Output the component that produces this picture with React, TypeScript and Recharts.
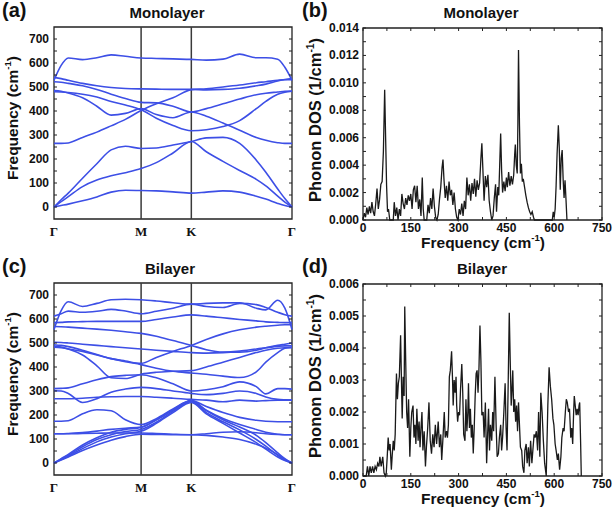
import { LineChart, Line, XAxis, YAxis, ReferenceLine, ReferenceArea } from 'recharts'

// ==================== Style ====================

const SANS = '"Liberation Sans", Arial, Helvetica, sans-serif'
const SERIF = '"Liberation Serif", "Times New Roman", serif'
const BAND_BLUE = '#3d4fe6'
const INK = '#222'

const W_LEFT = 306
const W_RIGHT = 307
const H = 256
// axis width/height take the left/bottom space, so margins there are 0
const BAND_MARGIN = { top: 27, right: 14, bottom: 0, left: 0 }
const BAND_Y_W = 54
const BAND_X_H = 37
const DOS_MARGIN = { top: 28, right: 11, bottom: 0, left: 0 }
const DOS_Y_W = 57
const DOS_X_H = 36

// ==================== Data ====================

// positions along the Γ–M–K–Γ path, in % of path length
const K_PATH = [0, 3, 6, 12, 18, 24, 30, 36.6, 43, 50, 57.7, 64, 71, 78, 85, 89, 94, 97, 100]
const SYM_POINTS = [0, 36.6, 57.7, 100]
const SYM_LABELS = ['Γ', 'M', 'K', 'Γ']

// monolayer branches, cm-1 at each K_PATH point
const MONO_BANDS: number[][] = [
  [528, 590, 621, 614, 622, 634, 628, 621, 619, 617, 615, 612, 616, 637, 622, 622, 616, 582, 528],
  [540, 535, 528, 515, 505, 498, 494, 492, 491, 490, 490, 488, 490, 495, 505, 512, 525, 531, 535],
  [522, 520, 515, 505, 490, 470, 452, 436, 434, 420, 396, 410, 430, 450, 468, 474, 479, 482, 483],
  [485, 482, 475, 455, 420, 383, 390, 410, 385, 372, 396, 378, 350, 320, 290, 278, 268, 265, 265],
  [480, 479, 477, 470, 458, 440, 425, 405, 370, 340, 318, 322, 335, 360, 410, 440, 470, 478, 482],
  [265, 265, 267, 290, 312, 338, 365, 402, 430, 455, 489, 493, 500, 508, 518, 522, 528, 530, 530],
  [0, 30, 58, 120, 180, 238, 253, 244, 246, 258, 273, 288, 290, 265, 195, 145, 75, 35, 0],
  [0, 22, 43, 85, 112, 130, 143, 160, 185, 225, 273, 230, 190, 152, 115, 88, 45, 20, 0],
  [0, 6, 12, 26, 42, 62, 70, 69, 67, 63, 58, 62, 67, 62, 45, 33, 15, 6, 0],
]

// bilayer branches, cm-1 at each K_PATH point
const BI_BANDS: number[][] = [
  [556, 635, 672, 652, 665, 680, 682, 680, 675, 668, 662, 665, 667, 668, 645, 638, 678, 645, 556],
  [612, 622, 633, 628, 632, 640, 633, 622, 632, 645, 662, 652, 648, 665, 660, 648, 628, 618, 612],
  [585, 586, 588, 589, 590, 590, 590, 590, 598, 608, 617, 612, 605, 598, 592, 588, 586, 585, 585],
  [569, 568, 566, 562, 558, 553, 547, 540, 528, 510, 490, 472, 462, 462, 470, 480, 490, 495, 500],
  [503, 502, 500, 495, 490, 485, 480, 475, 470, 465, 460, 458, 460, 466, 475, 480, 486, 488, 488],
  [493, 490, 485, 470, 452, 435, 425, 415, 440, 465, 490, 515, 538, 555, 566, 570, 574, 576, 576],
  [486, 483, 475, 450, 405, 355, 352, 370, 378, 382, 385, 400, 420, 440, 460, 470, 478, 480, 480],
  [482, 480, 475, 465, 450, 435, 422, 410, 395, 382, 375, 370, 362, 356, 380, 420, 460, 478, 482],
  [310, 311, 313, 330, 347, 360, 365, 368, 355, 330, 300, 305, 318, 338, 318, 288, 310, 310, 308],
  [301, 300, 290, 252, 268, 295, 308, 315, 310, 300, 290, 285, 290, 300, 290, 275, 265, 263, 262],
  [268, 268, 268, 270, 274, 276, 277, 277, 274, 270, 265, 262, 255, 262, 258, 260, 262, 262, 262],
  [174, 174, 176, 205, 222, 218, 180, 160, 185, 225, 260, 235, 210, 190, 178, 174, 172, 172, 172],
  [122, 122, 123, 127, 133, 140, 145, 150, 180, 220, 258, 220, 185, 160, 140, 128, 120, 118, 118],
  [122, 122, 122, 123, 124, 125, 125, 125, 123, 120, 118, 122, 128, 130, 126, 122, 119, 118, 118],
  [0, 12, 25, 52, 75, 95, 110, 120, 119, 118, 118, 115, 108, 98, 78, 62, 35, 15, 0],
  [0, 14, 28, 60, 88, 108, 122, 132, 165, 210, 252, 205, 165, 125, 85, 58, 25, 10, 0],
  [0, 16, 32, 68, 98, 118, 131, 140, 170, 215, 255, 210, 172, 138, 98, 70, 32, 12, 0],
  [0, 18, 36, 75, 105, 128, 140, 148, 180, 222, 260, 218, 180, 150, 115, 85, 42, 18, 0],
]

// phonon DOS, [frequency cm-1, DOS 1/cm-1]
const DOS_MONO: [number, number][] = [
  [0, 0], [4, 0.0005], [8, 0.0002], [12, 0.0009], [16, 0.0004], [20, 0.001], [24, 0.0005], [28, 0.0013],
  [32, 0.0006], [36, 0.0003], [40, 0.0012], [44, 0.0023], [48, 0.0008], [52, 0.0015], [56, 0.0026],
  [60, 0.0028], [64, 0.005], [68, 0.0095], [71, 0.006], [74, 0.0025], [77, 0.0006], [80, 0.0008],
  [84, 0], [95, 0], [98, 0.0013], [102, 0.0003], [106, 0.0009], [110, 0], [114, 0.0008], [118, 0.0003],
  [122, 0.0019], [126, 0.0012], [130, 0.0008], [134, 0.0016], [138, 0.0011], [142, 0.0018], [146, 0.0014],
  [150, 0.0019], [154, 0.0008], [158, 0.0022], [162, 0.0025], [166, 0.0013], [170, 0.0025], [174, 0.0008],
  [178, 0.0015], [182, 0.0003], [186, 0.0031], [189, 0.0008], [192, 0], [200, 0], [204, 0.0011],
  [208, 0.0005], [212, 0.0016], [216, 0.0008], [220, 0.0023], [224, 0.001], [228, 0.0002], [232, 0],
  [236, 0.0004], [240, 0.0015], [244, 0.0024], [248, 0.0038], [251, 0.0044], [254, 0.003], [258, 0.0016],
  [262, 0.0025], [266, 0.0014], [270, 0.0028], [274, 0.0018], [278, 0.0022], [282, 0.0011], [286, 0.002],
  [290, 0.0008], [294, 0.0002], [298, 0], [302, 0.0008], [306, 0.0004], [310, 0.0012], [314, 0.0003],
  [318, 0.0014], [322, 0.0008], [326, 0.0031], [330, 0.0018], [334, 0.0026], [338, 0.0014], [342, 0.0027],
  [346, 0.0019], [350, 0.003], [354, 0.0017], [358, 0.0029], [362, 0.0022], [366, 0.0027], [370, 0.0045],
  [373, 0.0056], [376, 0.0038], [380, 0.0014], [384, 0.0032], [388, 0.0024], [392, 0.0033], [396, 0.0014],
  [400, 0.0006], [404, 0], [408, 0.0003], [412, 0.0016], [416, 0.0026], [419, 0.0006], [423, 0.0024],
  [426, 0.0018], [429, 0.004], [432, 0.0063], [435, 0.0036], [438, 0.002], [442, 0.0028], [446, 0.0021],
  [450, 0.0031], [453, 0.0024], [457, 0.0035], [461, 0.0025], [465, 0.0032], [469, 0.0026], [473, 0.0033],
  [476, 0.0048], [478, 0.0055], [481, 0.004], [484, 0.0034], [486, 0.007], [488, 0.0124], [491, 0.007],
  [494, 0.0034], [497, 0.0041], [500, 0.0028], [503, 0.003], [507, 0.0024], [511, 0.0018], [515, 0.0013],
  [519, 0.0009], [523, 0.0006], [527, 0.0004], [531, 0.0006], [535, 0.0002], [538, 0], [594, 0],
  [597, 0.0006], [600, 0.0002], [603, 0.0008], [606, 0.0025], [609, 0.0048], [613, 0.0069], [616, 0.0052],
  [619, 0.0022], [622, 0.0045], [625, 0.0051], [628, 0.003], [631, 0.0016], [634, 0.0029], [637, 0.0015],
  [640, 0],
]

const DOS_BI: [number, number][] = [
  [0, 0], [10, 0], [14, 0.0003], [18, 0], [22, 0.0003], [26, 0.0001], [30, 0.0003], [34, 0.0001],
  [38, 0.0003], [42, 0.0002], [46, 0.0004], [50, 0.0003], [53, 0.0006], [57, 0.0003], [62, 0.0006],
  [66, 0.0001], [70, 0], [73, 0.0001], [76, 0.0006], [79, 0.0012], [82, 0.0008], [85, 0.001], [89, 0.0002],
  [92, 0.0007], [95, 0.0011], [98, 0.0008], [101, 0.0013], [105, 0.0032], [108, 0.0024], [111, 0.0029],
  [114, 0.0031], [118, 0.0044], [121, 0.0028], [123, 0.0018], [126, 0.0031], [129, 0.0025], [131, 0.0053],
  [134, 0.0036], [137, 0.002], [140, 0.0015], [143, 0.0024], [147, 0.0006], [150, 0.0015], [153, 0.002],
  [157, 0.0022], [160, 0.0012], [163, 0.0016], [166, 0.001], [169, 0.0021], [173, 0.0011], [176, 0.0017],
  [179, 0.0009], [182, 0.0015], [185, 0.002], [188, 0.0008], [192, 0.0014], [196, 0.0003], [199, 0.0009],
  [203, 0.0015], [207, 0.0023], [211, 0.0011], [215, 0.0007], [219, 0.0013], [223, 0.0009], [227, 0.0016],
  [231, 0.001], [236, 0.0017], [240, 0.0009], [244, 0.0013], [247, 0.0005], [251, 0.0012], [255, 0.002],
  [258, 0.0012], [262, 0.0014], [265, 0.0012], [268, 0.0016], [271, 0.0031], [274, 0.0033], [278, 0.0039],
  [281, 0.003], [283, 0.0022], [286, 0.003], [289, 0.0026], [292, 0.0031], [294, 0.0022], [297, 0.0017],
  [300, 0.002], [303, 0.0019], [306, 0.0027], [310, 0.0035], [313, 0.0026], [316, 0.0013], [320, 0.0011],
  [323, 0.0024], [326, 0.0014], [329, 0.002], [331, 0.0029], [334, 0.0015], [337, 0.0021], [340, 0.0012],
  [343, 0.0016], [346, 0.0007], [349, 0.0015], [352, 0.0025], [355, 0.0032], [358, 0.0033], [361, 0.0026],
  [364, 0.0034], [367, 0.0047], [370, 0.0036], [373, 0.0019], [377, 0.002], [380, 0.0012], [384, 0.0023],
  [388, 0.0004], [391, 0.0013], [394, 0.0021], [397, 0.0008], [400, 0.0016], [404, 0.0011], [407, 0.002],
  [410, 0.0014], [414, 0.0031], [418, 0.0015], [421, 0.0006], [425, 0.0007], [428, 0.0012], [432, 0.0016],
  [435, 0.0008], [438, 0.0012], [442, 0.002], [446, 0.0029], [449, 0.0015], [452, 0.0008], [455, 0.0025],
  [459, 0.0051], [462, 0.0036], [465, 0.0022], [468, 0.0028], [470, 0.0033], [473, 0.002], [476, 0.0024],
  [479, 0.0017], [482, 0.0022], [485, 0.0014], [488, 0.0023], [491, 0.0016], [494, 0.0009], [498, 0.0008],
  [501, 0.0003], [505, 0.0001], [508, 0.0008], [512, 0.001], [515, 0.0004], [519, 0.0009], [522, 0.0003],
  [526, 0.0011], [530, 0.0004], [533, 0.0008], [537, 0.0013], [540, 0.0012], [544, 0.0014], [548, 0.0008],
  [551, 0.002], [555, 0.0006], [558, 0.0026], [562, 0.002], [566, 0.0011], [570, 0.0004], [575, 0],
  [580, 0.0022], [584, 0.0034], [588, 0.0028], [592, 0.0024], [596, 0.0018], [599, 0.0016], [603, 0.001],
  [606, 0.0008], [610, 0.0005], [613, 0.0007], [617, 0.0002], [621, 0.0006], [624, 0.0012], [628, 0.0015],
  [631, 0.0014], [635, 0.002], [638, 0.0024], [641, 0.0023], [645, 0.002], [648, 0.0021], [652, 0.0012],
  [655, 0.0015], [658, 0.001], [661, 0.002], [663, 0.0025], [666, 0.0022], [669, 0.0019], [672, 0.0021],
  [675, 0.0019], [678, 0.0022], [680, 0.0023], [683, 0.001], [685, 0],
]

const FREQ_TICKS = [0, 50, 100, 150, 200, 250, 300, 350, 400, 450, 500, 550, 600, 650, 700]
const DOS_X_TICKS = [0, 75, 150, 225, 300, 375, 450, 525, 600, 675, 750]
const DOS_MONO_Y_TICKS = [0, 0.001, 0.002, 0.003, 0.004, 0.005, 0.006, 0.007, 0.008, 0.009, 0.01, 0.011, 0.012, 0.013, 0.014]
const DOS_BI_Y_TICKS = [0, 0.0005, 0.001, 0.0015, 0.002, 0.0025, 0.003, 0.0035, 0.004, 0.0045, 0.005, 0.0055, 0.006]

// ==================== Ticks ====================

const TICK_LEN = 3

function FreqTick({ x, y, payload, pw }: any) {
  const v = payload.value as number
  return (
    <g>
      <line x1={x} y1={y} x2={x + TICK_LEN} y2={y} stroke={INK} strokeWidth={1} />
      <line x1={x + pw} y1={y} x2={x + pw - TICK_LEN} y2={y} stroke={INK} strokeWidth={1} />
      {v % 100 === 0 && (
        <text x={x - 5} y={y + 4} textAnchor="end" fontFamily={SANS} fontWeight={700} fontSize={12} fill="#111">
          {v}
        </text>
      )}
    </g>
  )
}

function SymTick({ x, y, index }: any) {
  return (
    <text x={x} y={y + 17} textAnchor="middle" fontFamily={SERIF} fontWeight={700} fontSize={13} fill="#111">
      {SYM_LABELS[index]}
    </text>
  )
}

function DosYTick({ x, y, payload, pw, step }: any) {
  const v = payload.value as number
  const n = Math.round(v / step)
  return (
    <g>
      <line x1={x} y1={y} x2={x + TICK_LEN} y2={y} stroke={INK} strokeWidth={1} />
      <line x1={x + pw} y1={y} x2={x + pw - TICK_LEN} y2={y} stroke={INK} strokeWidth={1} />
      {n % 2 === 0 && (
        <text x={x - 4} y={y + 4} textAnchor="end" fontFamily={SANS} fontWeight={700} fontSize={12} fill="#111">
          {v.toFixed(3)}
        </text>
      )}
    </g>
  )
}

function DosXTick({ x, y, payload, ph }: any) {
  const v = payload.value as number
  return (
    <g>
      <line x1={x} y1={y} x2={x} y2={y - TICK_LEN} stroke={INK} strokeWidth={1} />
      <line x1={x} y1={y - ph} x2={x} y2={y - ph + TICK_LEN} stroke={INK} strokeWidth={1} />
      {v % 150 === 0 && (
        <text x={x} y={y + 12} textAnchor="middle" fontFamily={SANS} fontWeight={700} fontSize={12} fill="#111">
          {v}
        </text>
      )}
    </g>
  )
}

// ==================== Panels ====================

function bandRows(bands: number[][]) {
  return K_PATH.map((k, i) => {
    const row: Record<string, number> = { k }
    bands.forEach((b, j) => { row[`b${j}`] = b[i] })
    return row
  })
}

function BandPanel({ bands }: { bands: number[][] }) {
  const rows = bandRows(bands)
  const pw = W_LEFT - BAND_Y_W - BAND_MARGIN.right
  return (
    <LineChart width={W_LEFT} height={H} data={rows} margin={BAND_MARGIN}>
      <XAxis
        dataKey="k" type="number" domain={[0, 100]} ticks={SYM_POINTS} interval={0}
        height={BAND_X_H} tickSize={0} tickMargin={0} axisLine={false} tickLine={false}
        tick={(p: any) => <SymTick {...p} />}
      />
      <YAxis
        type="number" domain={[-50, 750]} ticks={FREQ_TICKS} interval={0}
        width={BAND_Y_W} tickSize={0} tickMargin={0} axisLine={false} tickLine={false}
        tick={(p: any) => <FreqTick {...p} pw={pw} />}
      />
      <ReferenceArea x1={0} x2={100} y1={-50} y2={750} fill="none" stroke={INK} strokeWidth={1.3} fillOpacity={0} />
      <ReferenceLine x={SYM_POINTS[1]} stroke="#3a3a3a" strokeWidth={1.5} />
      <ReferenceLine x={SYM_POINTS[2]} stroke="#3a3a3a" strokeWidth={1.5} />
      {bands.map((_, j) => (
        <Line
          key={j} dataKey={`b${j}`} type="monotone" stroke={BAND_BLUE} strokeWidth={1.6}
          dot={false} activeDot={false} isAnimationActive={false}
        />
      ))}
    </LineChart>
  )
}

function DosPanel({ dos, yMax, yTicks, step }: { dos: [number, number][]; yMax: number; yTicks: number[]; step: number }) {
  const rows = dos.map(([f, d]) => ({ f, d }))
  const pw = W_RIGHT - DOS_Y_W - DOS_MARGIN.right
  const ph = H - DOS_MARGIN.top - DOS_X_H
  return (
    <LineChart width={W_RIGHT} height={H} data={rows} margin={DOS_MARGIN}>
      <XAxis
        dataKey="f" type="number" domain={[0, 750]} ticks={DOS_X_TICKS} interval={0}
        height={DOS_X_H} tickSize={0} tickMargin={0} axisLine={false} tickLine={false}
        tick={(p: any) => <DosXTick {...p} ph={ph} />}
      />
      <YAxis
        type="number" domain={[0, yMax]} ticks={yTicks} interval={0}
        width={DOS_Y_W} tickSize={0} tickMargin={0} axisLine={false} tickLine={false}
        tick={(p: any) => <DosYTick {...p} pw={pw} step={step} />}
      />
      <ReferenceArea x1={0} x2={750} y1={0} y2={yMax} fill="none" stroke={INK} strokeWidth={1.3} fillOpacity={0} />
      <Line
        dataKey="d" type="linear" stroke="#1a1a1a" strokeWidth={1.3}
        dot={false} activeDot={false} isAnimationActive={false}
      />
    </LineChart>
  )
}

// ==================== Labels ====================

function CmText({ x, y, pre, size, rotate }: { x: number; y: number; pre: string; size: number; rotate?: boolean }) {
  return (
    <text
      x={x} y={y} textAnchor="middle" fontFamily={SANS} fontWeight={700} fontSize={size} fill="#111"
      transform={rotate ? `rotate(-90 ${x} ${y})` : undefined}
    >
      {pre}
      <tspan fontSize={size * 0.62} dy={-size * 0.42}>-1</tspan>
      <tspan dy={size * 0.42}>)</tspan>
    </text>
  )
}

function Overlay() {
  const title = { fontFamily: SANS, fontWeight: 700, fontSize: 15, fill: '#111', textAnchor: 'middle' as const }
  const tag = { fontFamily: SANS, fontWeight: 700, fontSize: 20, fill: '#111' }
  return (
    <svg width={613} height={512} style={{ position: 'absolute', left: 0, top: 0, pointerEvents: 'none' }}>
      <text x={2} y={17} {...tag}>(a)</text>
      <text x={302} y={17} {...tag}>(b)</text>
      <text x={2} y={273} {...tag}>(c)</text>
      <text x={302} y={273} {...tag}>(d)</text>
      <text x={167} y={18} {...title}>Monolayer</text>
      <text x={481} y={18} {...title}>Monolayer</text>
      <text x={170} y={274} {...title}>Bilayer</text>
      <text x={482} y={274} {...title}>Bilayer</text>
      <CmText x={18} y={118} pre="Frequency (cm" size={15.5} rotate />
      <CmText x={18} y={374} pre="Frequency (cm" size={15.5} rotate />
      <CmText x={321} y={120} pre="Phonon DOS (1/cm" size={16.5} rotate />
      <CmText x={321} y={376} pre="Phonon DOS (1/cm" size={16.5} rotate />
      <CmText x={483} y={248} pre="Frequency (cm" size={15.5} />
      <CmText x={483} y={504} pre="Frequency (cm" size={15.5} />
    </svg>
  )
}

// ==================== App ====================

export default function App() {
  return (
    <div style={{ position: 'absolute', left: 0, top: 0, width: 613, height: 512, background: '#fff' }}>
      <div style={{ position: 'absolute', left: 0, top: 0 }}>
        <BandPanel bands={MONO_BANDS} />
      </div>
      <div style={{ position: 'absolute', left: W_LEFT, top: 0 }}>
        <DosPanel dos={DOS_MONO} yMax={0.014} yTicks={DOS_MONO_Y_TICKS} step={0.001} />
      </div>
      <div style={{ position: 'absolute', left: 0, top: H }}>
        <BandPanel bands={BI_BANDS} />
      </div>
      <div style={{ position: 'absolute', left: W_LEFT, top: H }}>
        <DosPanel dos={DOS_BI} yMax={0.006} yTicks={DOS_BI_Y_TICKS} step={0.0005} />
      </div>
      <Overlay />
    </div>
  )
}
